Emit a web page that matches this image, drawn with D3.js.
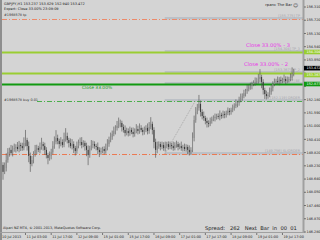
<!DOCTYPE html>
<html>
<head>
<meta charset="utf-8">
<script src="https://cdn.jsdelivr.net/npm/d3@7"></script>
<style>
  html, body { margin: 0; padding: 0; background: #d4d4d4; }
  svg { display: block; }
  text { font-family: "DejaVu Sans", sans-serif; }
</style>
</head>
<body>
<div id="chart"></div>
<script>
// GBPJPY H1 closes, one per bar, starting 10 Jul 2013 11:00
const closes = [
  149.71, 149.27, 148.96, 149.13, 149.49, 149.84, 149.94, 149.80, 149.98, 150.02,
  150.07, 149.98, 150.16, 150.11, 150.02, 150.25, 150.38, 150.11, 149.67, 149.31,
  149.49, 149.76, 149.94, 150.02, 149.94, 150.07, 150.20, 150.11, 149.94, 149.71,
  149.58, 149.67, 149.84, 150.11, 150.29, 150.47, 150.34, 150.20, 150.29, 150.16,
  150.43, 150.56, 150.38, 150.25, 150.11, 150.20, 150.02, 149.89, 150.11, 150.25,
  150.29, 150.16, 150.25, 150.11, 149.94, 149.71, 150.02, 150.16, 150.20, 150.11,
  150.07, 149.94, 149.84, 149.89, 149.98, 149.89, 150.02, 150.20, 150.38, 150.51,
  150.65, 150.78, 150.92, 151.01, 151.10, 151.14, 150.96, 150.83, 150.69, 150.78,
  150.69, 150.83, 150.74, 150.65, 150.78, 150.87, 150.78, 150.92, 150.83, 150.74,
  150.83, 150.92, 150.78, 150.96, 151.10, 150.83, 150.29, 149.94, 150.11, 150.20,
  150.07, 150.16, 150.02, 150.11, 150.20, 150.07, 150.16, 150.11, 150.02, 150.16,
  150.20, 150.07, 150.11, 150.02, 150.07, 149.98, 150.07, 149.94, 149.84, 149.94,
  150.47, 151.27, 151.63, 151.81, 151.99, 151.63, 151.45, 151.36, 151.23, 151.14,
  151.10, 151.23, 151.32, 151.36, 151.41, 151.45, 151.41, 151.50, 151.45, 151.54,
  151.50, 151.59, 151.68, 151.63, 151.72, 151.81, 151.90, 151.99, 152.03, 152.16,
  152.25, 152.34, 152.47, 152.56, 152.65, 152.74, 152.79, 152.88, 152.92, 152.97,
  153.01, 153.10, 153.19, 152.97, 152.61, 152.43, 152.34, 152.39, 152.52, 152.70,
  152.88, 152.97, 153.01, 152.97, 153.06, 153.01, 153.06, 153.10, 153.01, 153.06,
  153.10, 153.15, 153.32, 153.47
];
// wick lengths above / below each body
const upWick = [
  0.10, 0.20, 0.12, 0.25, 0.30, 0.18, 0.10, 0.22, 0.15, 0.20,
  0.12, 0.22, 0.18, 0.10, 0.15, 0.25, 0.45, 0.10, 0.20, 0.15,
  0.18, 0.12, 0.22, 0.15, 0.10, 0.20, 0.28, 0.10, 0.15, 0.12,
  0.10, 0.20, 0.15, 0.22, 0.25, 0.35, 0.15, 0.10, 0.22, 0.12,
  0.28, 0.35, 0.15, 0.10, 0.20, 0.22, 0.12, 0.10, 0.20, 0.15,
  0.20, 0.22, 0.12, 0.10, 0.15, 0.20, 0.10, 0.22, 0.15, 0.12,
  0.10, 0.20, 0.12, 0.15, 0.10, 0.12, 0.20, 0.22, 0.15, 0.20,
  0.15, 0.20, 0.12, 0.22, 0.28, 0.15, 0.10, 0.12, 0.20, 0.15,
  0.12, 0.15, 0.10, 0.20, 0.12, 0.22, 0.15, 0.20, 0.12, 0.10,
  0.15, 0.12, 0.20, 0.22, 0.30, 0.10, 0.12, 0.15, 0.20, 0.12,
  0.10, 0.15, 0.12, 0.20, 0.10, 0.12, 0.15, 0.10, 0.20, 0.12,
  0.15, 0.10, 0.12, 0.20, 0.10, 0.15, 0.12, 0.10, 0.20, 0.12,
  0.25, 0.20, 0.22, 0.18, 0.40, 0.15, 0.12, 0.20, 0.10, 0.15,
  0.12, 0.15, 0.10, 0.12, 0.15, 0.10, 0.12, 0.20, 0.10, 0.15,
  0.12, 0.10, 0.15, 0.12, 0.10, 0.15, 0.12, 0.20, 0.10, 0.15,
  0.20, 0.12, 0.15, 0.10, 0.20, 0.12, 0.15, 0.10, 0.12, 0.20,
  0.15, 0.22, 0.35, 0.10, 0.12, 0.10, 0.15, 0.12, 0.20, 0.15,
  0.12, 0.15, 0.10, 0.20, 0.12, 0.15, 0.10, 0.20, 0.12, 0.15,
  0.10, 0.20, 0.30, 0.08
];
const downWick = [
  0.20, 0.28, 0.35, 0.10, 0.15, 0.12, 0.20, 0.10, 0.15, 0.12,
  0.20, 0.10, 0.15, 0.22, 0.12, 0.10, 0.15, 0.20, 0.28, 0.35,
  0.10, 0.15, 0.12, 0.20, 0.10, 0.15, 0.12, 0.20, 0.22, 0.15,
  0.28, 0.12, 0.15, 0.10, 0.12, 0.10, 0.15, 0.20, 0.10, 0.12,
  0.10, 0.12, 0.15, 0.20, 0.10, 0.15, 0.22, 0.20, 0.12, 0.10,
  0.12, 0.15, 0.10, 0.20, 0.28, 0.45, 0.12, 0.10, 0.15, 0.12,
  0.15, 0.20, 0.22, 0.12, 0.10, 0.15, 0.12, 0.10, 0.12, 0.10,
  0.12, 0.10, 0.15, 0.12, 0.10, 0.15, 0.20, 0.12, 0.15, 0.10,
  0.15, 0.12, 0.10, 0.15, 0.12, 0.10, 0.15, 0.12, 0.10, 0.15,
  0.12, 0.10, 0.15, 0.12, 0.10, 0.20, 0.28, 0.35, 0.15, 0.12,
  0.15, 0.10, 0.12, 0.15, 0.10, 0.12, 0.10, 0.15, 0.12, 0.10,
  0.12, 0.15, 0.10, 0.12, 0.15, 0.10, 0.12, 0.20, 0.15, 0.12,
  0.10, 0.15, 0.12, 0.10, 0.12, 0.20, 0.15, 0.12, 0.15, 0.20,
  0.15, 0.10, 0.12, 0.10, 0.15, 0.12, 0.10, 0.15, 0.12, 0.10,
  0.15, 0.12, 0.10, 0.15, 0.12, 0.10, 0.12, 0.10, 0.15, 0.12,
  0.10, 0.12, 0.10, 0.15, 0.12, 0.10, 0.12, 0.15, 0.10, 0.12,
  0.10, 0.12, 0.15, 0.28, 0.20, 0.22, 0.15, 0.12, 0.10, 0.12,
  0.15, 0.10, 0.12, 0.10, 0.15, 0.12, 0.10, 0.12, 0.15, 0.10,
  0.12, 0.10, 0.12, 0.10
];

const priceTicks = ["156.310","155.720","155.130","154.540","153.950","153.360","152.770","152.180","151.590",
  "151.000","150.410","149.820","149.230","148.640","148.050","147.460","146.870","146.280"];
const timeTicks = ["10 Jul 2013","11 Jul 03:00","11 Jul 17:00","12 Jul 09:00","15 Jul 01:00","15 Jul 17:00",
  "16 Jul 09:00","17 Jul 01:00","17 Jul 17:00","18 Jul 09:00","19 Jul 01:00","19 Jul 17:00"];
const barsPerTick = 16;

// horizontal trade lines
const lineNames  = ["tp", "tp3", "tp2", "entry", "order", "sl"];
const linePrices = [155.775, 154.304, 153.367, 152.877, 152.119, 149.756];
const lineTags   = ["[155.775] TP", "[154.304] TP_3", "[153.367] TP_2", "[152.877] BE", "[152.119] ORDER", "[149.756] SL/ORDER"];
const closeLabels = ["Close 33.00% - 3", "Close 33.00% - 2", "Close 33.00%"];
const tradeBars   = [103, 122];
const tradePrices = [149.756, 152.119];
const bid = 153.472;

const W = 320, H = 240;
const svg = d3.select("#chart").append("svg").attr("width", W).attr("height", H);
svg.append("rect").attr("width", W).attr("height", H).attr("fill", "#d4d4d4");

const x = d3.scaleLinear().domain([0, closes.length - 1]).range([-0.7, -0.7 + 1.606 * (closes.length - 1)]);
const y = d3.scaleLinear().domain([146.28, 156.31]).range([232, 7]);
const plotR = 303;

// trade lines
const hl = svg.append("g");
const lineStyle = {
  tp:    {c: "#ec8a6a", w: 1, d: "5,2,1,2"},
  tp3:   {c: "#9acd32", w: 2, d: null},
  tp2:   {c: "#9acd32", w: 2, d: null},
  entry: {c: "#119911", w: 2, d: null},
  order: {c: "#4cae4c", w: 1, d: "5,2,1,2"},
  sl:    {c: "#ec7a52", w: 1, d: "5,2,1,2"}
};
// faint bands from the open bar
lineNames.forEach((n, i) => {
  hl.append("rect").attr("x", x(tradeBars[0])).attr("width", plotR - x(tradeBars[0]))
    .attr("y", Math.round(y(linePrices[i])) - 2).attr("height", 2.5).attr("fill", "#bcc0c6");
});
lineNames.forEach((n, i) => {
  const s = lineStyle[n];
  const x0 = n === "order" ? 37 : 2;
  const yy = Math.round(y(linePrices[i])) + 0.5;
  hl.append("line")
    .attr("x1", x0).attr("x2", plotR)
    .attr("y1", yy).attr("y2", yy)
    .attr("stroke", s.c).attr("stroke-width", s.w)
    .attr("stroke-dasharray", s.d);
  hl.append("text")
    .attr("x", plotR - 3).attr("y", yy - 2.5)
    .attr("text-anchor", "end").attr("font-size", 3.4).attr("fill", "#a4a4ac")
    .text(lineTags[i]);
});

hl.append("line")
  .attr("x1", x(tradeBars[0])).attr("y1", y(tradePrices[0]))
  .attr("x2", x(tradeBars[1])).attr("y2", y(tradePrices[1]))
  .attr("stroke", "#8a8a8a").attr("stroke-width", 0.6).attr("stroke-dasharray", "1,1");

hl.append("text").attr("x", 4).attr("y", y(linePrices[4]) - 0.5)
  .attr("font-size", 3.4).attr("fill", "#303030").text("#1968578 buy 0.01");
hl.append("text").attr("x", 4).attr("y", y(linePrices[0]) - 3)
  .attr("font-size", 3.4).attr("fill", "#303030").text("#1968578 tp");

// close labels
hl.append("text").attr("x", 290).attr("y", y(linePrices[1]) - 5).attr("text-anchor", "end")
  .attr("font-size", 5.2).attr("fill", "#e838e8").text(closeLabels[0]);
hl.append("text").attr("x", 288).attr("y", y(linePrices[2]) - 7).attr("text-anchor", "end")
  .attr("font-size", 5.2).attr("fill", "#e838e8").text(closeLabels[1]);
hl.append("text").attr("x", 82).attr("y", y(linePrices[3]) + 5).attr("font-size", 4.4)
  .attr("fill", "#1a9a1a").text(closeLabels[2]);

// candles
const bars = closes.map((c, i) => {
  const o = i === 0 ? c : closes[i - 1];
  return {i, o, c, h: Math.max(o, c) + upWick[i], l: Math.min(o, c) - downWick[i]};
});
const cg = svg.append("g");
cg.selectAll("line.wick").data(bars).join("line")
  .attr("x1", d => x(d.i) + 0.5).attr("x2", d => x(d.i) + 0.5)
  .attr("y1", d => y(d.h)).attr("y2", d => y(d.l))
  .attr("stroke", "#4a4a4a").attr("stroke-width", 0.6);
cg.selectAll("rect").data(bars).join("rect")
  .attr("x", d => x(d.i)).attr("width", 1)
  .attr("y", d => y(Math.max(d.o, d.c)))
  .attr("height", d => Math.max(0.5, Math.abs(y(d.o) - y(d.c))))
  .attr("fill", d => d.c >= d.o ? "#8c8c8c" : "#383838");

// frame
svg.append("rect").attr("x", 0).attr("y", 0).attr("width", 2).attr("height", H).attr("fill", "#8e8e8e");
svg.append("line").attr("x1", plotR + 0.5).attr("x2", plotR + 0.5).attr("y1", 0).attr("y2", 233)
  .attr("stroke", "#a0a0a0").attr("stroke-width", 2);
svg.append("line").attr("x1", 0).attr("x2", plotR + 1).attr("y1", 232.5).attr("y2", 232.5)
  .attr("stroke", "#a0a0a0").attr("stroke-width", 1);

// price flags on axis
const flags = [
  {p: linePrices[1], bg: "#9acd32", fg: "#ffffff", dy: 0},
  {p: bid, bg: "#000000", fg: "#ffffff", dy: -2.5},
  {p: linePrices[2], bg: "#9acd32", fg: "#ffffff", dy: 2},
  {p: linePrices[3], bg: "#119911", fg: "#ffffff", dy: 0}
];
const flagY = flags.map(f => y(f.p) + f.dy);

// right price axis, tick labels hidden under flags
const ya = svg.append("g");
ya.selectAll("g").data(priceTicks).join("g")
  .attr("transform", d => `translate(0,${y(+d)})`)
  .each(function (d) {
    const g = d3.select(this);
    g.append("line").attr("x1", 304).attr("x2", 306).attr("stroke", "#333").attr("stroke-width", 0.6);
    if (flagY.every(fy => Math.abs(fy - y(+d)) > 4.5)) {
      g.append("text").attr("x", 306.5).attr("y", 1.2).attr("font-size", 3.4).attr("fill", "#222").text(d);
    }
  });

flags.forEach((f, i) => {
  ya.append("rect").attr("x", 304).attr("y", flagY[i] - 2.3).attr("width", 16).attr("height", 4.6).attr("fill", f.bg);
  ya.append("text").attr("x", 306.5).attr("y", flagY[i] + 1.2).attr("font-size", 3.4).attr("fill", f.fg)
    .text(f.p.toFixed(3));
});

// time axis
const xa = svg.append("g");
timeTicks.forEach((t, k) => {
  const xp = x(k * barsPerTick);
  if (k > 0) {
    xa.append("line").attr("x1", xp + 0.5).attr("x2", xp + 0.5).attr("y1", 233).attr("y2", 235)
      .attr("stroke", "#333").attr("stroke-width", 0.6);
  }
  xa.append("text").attr("x", k === 0 ? 2 : xp + 1.5).attr("y", 238).attr("font-size", 3.4)
    .attr("fill", "#222").text(t);
});

// header / footer texts
svg.append("text").attr("x", 4).attr("y", 5).attr("font-size", 3.5).attr("fill", "#222")
  .text("GBPJPY,H1  153.237 153.629 152.940 153.472");
svg.append("text").attr("x", 4).attr("y", 10).attr("font-size", 3.5).attr("fill", "#222")
  .text("Expert: Close 33.00%  23:09:09");
svg.append("text").attr("x", 292).attr("y", 6).attr("text-anchor", "end").attr("font-size", 3.8)
  .attr("fill", "#222").text("rpanc  The Bar");
svg.append("text").attr("x", 293).attr("y", 6.5).attr("font-size", 5).attr("fill", "#222").text("\u263A");
svg.append("text").attr("x", 3).attr("y", 229).attr("font-size", 3.4).attr("fill", "#222")
  .text("Alpari NZ MT4, \u00A9 2001-2013, MetaQuotes Software Corp.");
svg.append("text").attr("x", 205).attr("y", 229.5).attr("font-size", 5.2)
  .attr("font-family", "Liberation Serif, serif").attr("fill", "#222")
  .style("white-space", "pre").text("Spread:   262   Next  Bar  in  00  01");
</script>
</body>
</html>
